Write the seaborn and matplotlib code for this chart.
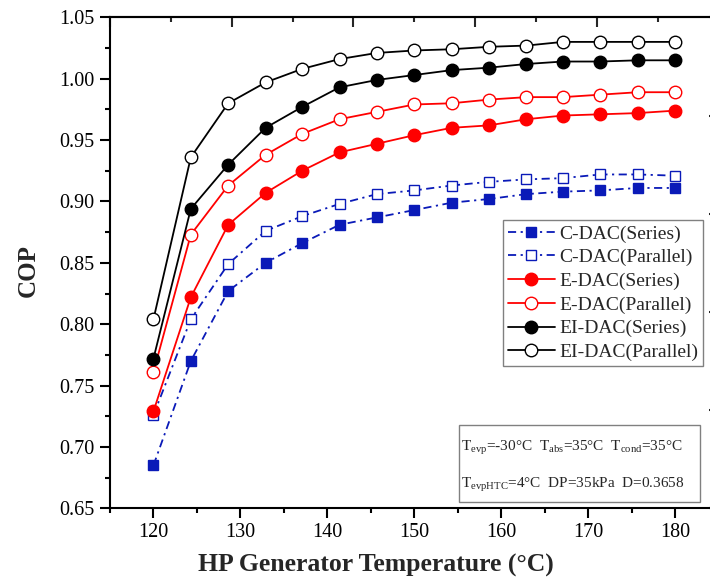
import matplotlib
matplotlib.use("Agg")
import matplotlib.pyplot as plt
from matplotlib.patches import Rectangle
from matplotlib.ticker import MultipleLocator, FormatStrFormatter
import seaborn as sns
import pandas as pd

# HP generator temperature (°C)
gen_temp = [120.0, 124.3, 128.6, 132.9, 137.1, 141.4, 145.7, 150.0,
            154.3, 158.6, 162.9, 167.1, 171.4, 175.7, 180.0]

# COP of each configuration
cop_c_series = [0.685, 0.770, 0.827, 0.850, 0.866, 0.881, 0.887, 0.893,
                0.899, 0.902, 0.906, 0.908, 0.909, 0.911, 0.911]
cop_c_parallel = [0.726, 0.804, 0.849, 0.876, 0.888, 0.898, 0.906, 0.909,
                  0.913, 0.916, 0.918, 0.919, 0.922, 0.922, 0.921]
cop_e_series = [0.729, 0.822, 0.881, 0.907, 0.925, 0.940, 0.947, 0.954,
                0.960, 0.962, 0.967, 0.970, 0.971, 0.972, 0.974]
cop_e_parallel = [0.761, 0.873, 0.913, 0.938, 0.955, 0.967, 0.973, 0.979,
                  0.980, 0.983, 0.985, 0.985, 0.987, 0.989, 0.989]
cop_ei_series = [0.772, 0.894, 0.930, 0.960, 0.977, 0.993, 0.999, 1.003,
                 1.007, 1.009, 1.012, 1.014, 1.014, 1.015, 1.015]
cop_ei_parallel = [0.804, 0.936, 0.980, 0.997, 1.008, 1.016, 1.021, 1.023,
                   1.024, 1.026, 1.027, 1.030, 1.030, 1.030, 1.030]

labels = ["C-DAC(Series)", "C-DAC(Parallel)", "E-DAC(Series)",
          "E-DAC(Parallel)", "EI-DAC(Series)", "EI-DAC(Parallel)"]

sns.set_theme(style="ticks")
plt.rcParams["font.family"] = ["Liberation Serif", "DejaVu Serif"]
plt.rcParams["mathtext.fontset"] = "custom"
plt.rcParams["mathtext.rm"] = "Liberation Serif"
plt.rcParams["mathtext.it"] = "Liberation Serif:italic"
plt.rcParams["mathtext.bf"] = "Liberation Serif:bold"

BLUE = "#0a1ab8"
RED = "#ff0000"
BLACK = "#000000"
dashdot = (0, (4.5, 2.5, 1.2, 2.5))

series = [
    (cop_c_series, BLUE, "s", True, dashdot, 7.5),
    (cop_c_parallel, BLUE, "s", False, dashdot, 7.5),
    (cop_e_series, RED, "o", True, "-", 9),
    (cop_e_parallel, RED, "o", False, "-", 9),
    (cop_ei_series, BLACK, "o", True, "-", 9),
    (cop_ei_parallel, BLACK, "o", False, "-", 9),
]

fig = plt.figure(figsize=(7.10, 5.82), dpi=100)
ax = fig.add_axes([0.1549, 0.1266, 0.8572, 0.8436])

for (vals, col, mk, filled, ls, ms), lab in zip(series, labels):
    df = pd.DataFrame({"T": gen_temp, "COP": vals})
    sns.lineplot(data=df, x="T", y="COP", ax=ax, color=col, linestyle=ls,
                 linewidth=1.3, marker=mk, markersize=ms,
                 markerfacecolor=col if filled else "white",
                 markeredgecolor=col, markeredgewidth=1.0,
                 errorbar=None, label=lab)

ax.set_xlim(115, 185)
ax.set_ylim(0.65, 1.05)
ax.xaxis.set_major_locator(MultipleLocator(10))
ax.xaxis.set_minor_locator(MultipleLocator(5))
ax.yaxis.set_major_locator(MultipleLocator(0.05))
ax.yaxis.set_minor_locator(MultipleLocator(0.025))
ax.yaxis.set_major_formatter(FormatStrFormatter("%.2f"))
ax.tick_params(which="both", direction="out", width=1.5, colors="black",
               labelsize=14.5, top=False, right=False)
ax.tick_params(which="major", length=7)
ax.tick_params(which="minor", length=3.8)
ax.tick_params(axis="y", which="major", pad=4)
for sp in ax.spines.values():
    sp.set_visible(True)
    sp.set_linewidth(1.5)
    sp.set_color("black")

# Mirrored frame ticks on top and right
top = ax.secondary_xaxis("top")
top.set_xticks([115, 129, 143, 157, 171, 185])
top.set_xticks([122, 136, 150, 164, 178], minor=True)
top.tick_params(which="both", direction="in", width=1.5, labeltop=False)
top.tick_params(which="major", length=7)
top.tick_params(which="minor", length=3.8)
top.spines["top"].set_linewidth(1.5)

right = ax.secondary_yaxis("right")
right.set_yticks([0.65, 0.73, 0.81, 0.89, 0.97, 1.05])
right.set_yticks([0.69, 0.77, 0.85, 0.93, 1.01], minor=True)
right.tick_params(which="both", direction="in", width=1.5, labelright=False)
right.tick_params(which="major", length=7)
right.tick_params(which="minor", length=3.8)
right.spines["right"].set_linewidth(1.5)

ax.set_xlabel("HP Generator Temperature (°C)", fontsize=18.5, fontweight="bold")
ax.set_ylabel("COP", fontsize=18, fontweight="bold")
ax.xaxis.set_label_coords(0.437, -0.093)
ax.yaxis.set_label_coords(-0.115, 0.485)

leg = ax.legend(loc="upper left", bbox_to_anchor=(0.646, 0.587),
                borderaxespad=0, fontsize=14, frameon=True, fancybox=False,
                framealpha=1, edgecolor="#808080", handlelength=2.4,
                handletextpad=0.25, labelspacing=0.31, borderpad=0.25)
leg.get_frame().set_linewidth(1.0)

# Operating-condition box
ax.add_patch(Rectangle((0.5734, 0.0128), 0.396, 0.1568, transform=ax.transAxes,
                       facecolor="white", edgecolor="#808080", linewidth=1.0,
                       zorder=5))
ax.text(0.5767, 0.1167,
        r"T$_{\mathrm{evp}}$=-30°C  T$_{\mathrm{abs}}$=35°C  T$_{\mathrm{cond}}$=35°C",
        transform=ax.transAxes, fontsize=11, va="baseline", ha="left", zorder=6)
ax.text(0.5767, 0.0413,
        r"T$_{\mathrm{evpHTC}}$=4°C  DP=35kPa  D=0.3658",
        transform=ax.transAxes, fontsize=11, va="baseline", ha="left", zorder=6)

fig.savefig("out.png", dpi=100)
